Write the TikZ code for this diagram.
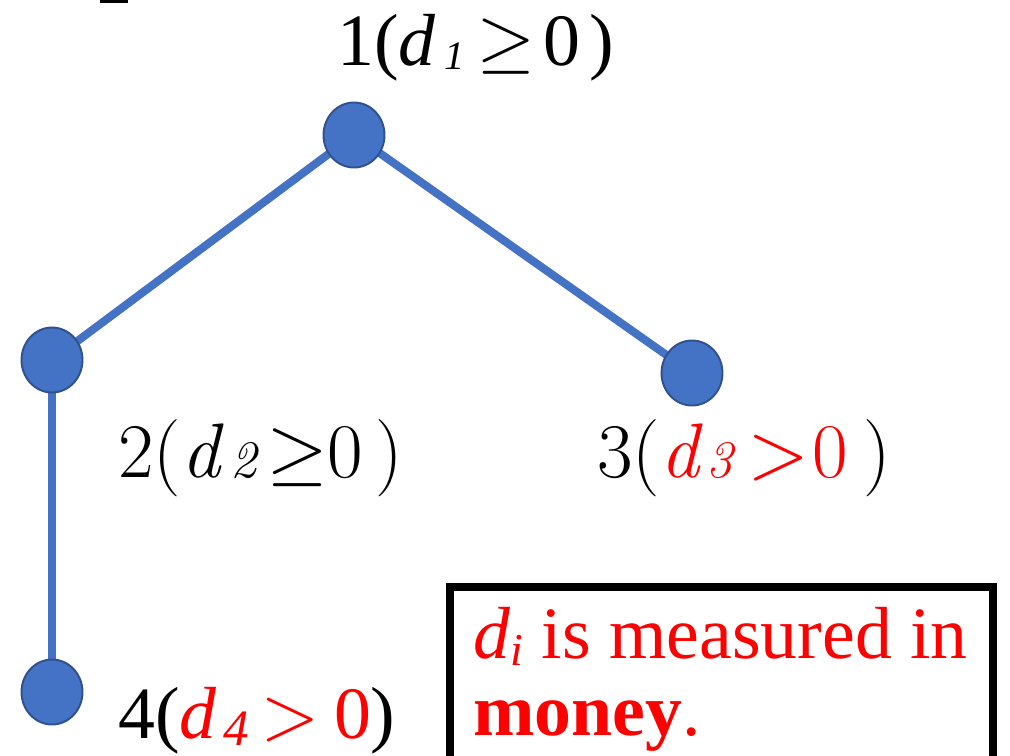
\documentclass[tikz,border=0pt]{standalone}
\usepackage{fontspec}
\usepackage{unicode-math}
\setmainfont{Liberation Serif}
\setmathfont{Latin Modern Math}
\newfontfamily\lmfont{Latin Modern Roman}
\usepackage{tikz}
\usetikzlibrary{shapes.geometric,backgrounds}
\definecolor{TreeBlue}{HTML}{4472C4}
\definecolor{TreeEdge}{HTML}{2F528F}
\definecolor{NoteRed}{HTML}{FF0000}
% lowered italic index: #1 drop, #2 size (pt), #3 text
\newcommand{\lowsub}[3]{\raisebox{-#1}{\fontsize{#2}{#2}\selectfont\itshape #3}}
\tikzset{
  treelabel/.style={font=\fontsize{42}{50}\selectfont, text=black, anchor=base west, inner sep=0pt},
  cmlabel/.style={treelabel, font=\fontsize{44}{52}\selectfont\lmfont},
  vertex/.style={ellipse, fill=TreeBlue, draw=TreeEdge, line width=1.1pt, minimum width=1.22cm, minimum height=1.3cm, inner sep=0pt},
  treeedge/.style={draw=TreeBlue, line width=4.6pt},
  notebox/.style={draw=black, line width=5pt},
  notetext/.style={font=\fontsize{42}{44}\selectfont, text=NoteRed, align=left, anchor=north west, inner sep=0pt}
}

\begin{document}
\begin{tikzpicture}[x=0.02cm, y=-0.02cm]
\useasboundingbox (0,0) rectangle (1010,755);
\fill[black] (100,0) rectangle (128,3);
% vertices
\node[vertex] (v1) at (354,135) {};
\node[vertex] (v2) at (52,360) {};
\node[vertex] (v3) at (692,373) {};
\node[vertex] (v4) at (52,692) {};
\begin{scope}[on background layer]
\draw[treeedge] (v1.center) -- (v2.center);
\draw[treeedge] (v1.center) -- (v3.center);
\draw[treeedge] (v2.center) -- (v4.center);
\end{scope}
% labels
\node[treelabel] (l1) at (337,65) {1(\textit{d}\hspace{5pt}\lowsub{2.8pt}{23}{1}\hspace{7pt}$\geq$\hspace{5pt}0\hspace{5pt})};
\node[cmlabel] (l2) at (118,477) {2(\textit{d}\hspace{4pt}\lowsub{0pt}{30}{2}\hspace{6pt}$\geq$0\hspace{7pt})};
\node[cmlabel] (l3) at (597,477) {3(\textcolor{NoteRed}{\textit{d}\hspace{2pt}\lowsub{0pt}{30}{3}\hspace{9pt}$>$\hspace{2pt}0}\hspace{9pt})};
\node[treelabel] (l4) at (118,738) {4(\textcolor{NoteRed}{\textit{d}\hspace{4pt}\lowsub{4pt}{29}{4}\hspace{7pt}$>$\hspace{8.5pt}0})};
% note
\draw[notebox] (450,760) |- (993,587) -- (993,760);
\node[notetext] (note) at (473,607) {\textit{d}\lowsub{4pt}{26}{i} is measured in\\\textbf{money}.};
\end{tikzpicture}
\end{document}
